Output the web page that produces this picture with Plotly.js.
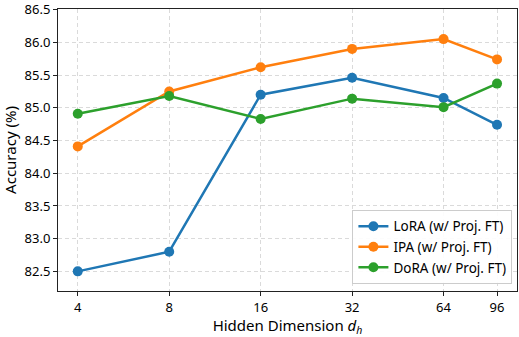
<!DOCTYPE html>
<html>
<head>
<meta charset="utf-8">
<script src="https://cdn.plot.ly/plotly-3.0.1.min.js"></script>
<style>body{margin:0}#chart{width:519px;height:337px}</style>
</head>
<body>
<div id="chart"></div>
<script>
const dims = [4, 8, 16, 32, 64, 96];
const lora = [82.50, 82.80, 85.20, 85.46, 85.15, 84.74];
const ipa = [84.41, 85.25, 85.62, 85.90, 86.05, 85.74];
const dora = [84.91, 85.18, 84.83, 85.14, 85.01, 85.37];

const names = ['LoRA (w/ Proj. FT)', 'IPA (w/ Proj. FT)', 'DoRA (w/ Proj. FT)'];
const colors = ['#1f77b4', '#ff7f0e', '#2ca02c'];

const data = [lora, ipa, dora].map((ys, i) => ({
  x: dims,
  y: ys,
  name: names[i],
  type: 'scatter',
  mode: 'lines+markers',
  line: {color: colors[i], width: 2.5},
  marker: {color: colors[i], size: 10}
}));

const axisBase = {
  showline: true, mirror: true, linecolor: '#222', linewidth: 1,
  ticks: 'outside', ticklen: 4, tickcolor: '#222',
  gridcolor: '#dadada', griddash: '4px,3px', gridwidth: 1,
  zeroline: false,
  ticklabeloverflow: 'allow',
  tickfont: {size: 13, color: '#000'}
};

const layout = {
  width: 519, height: 337,
  margin: {l: 58, r: 2, t: 9, b: 46},
  font: {family: 'Noto Sans, sans-serif', color: '#000'},
  paper_bgcolor: '#fff', plot_bgcolor: '#fff',
  showlegend: true,
  legend: {
    x: 0.99, y: 0.025, xanchor: 'right', yanchor: 'bottom',
    bordercolor: '#ccc', borderwidth: 1, bgcolor: 'rgba(255,255,255,0.9)',
    font: {size: 13.5}, tracegroupgap: 0
  },
  xaxis: Object.assign({}, axisBase, {
    type: 'log',
    range: [0.537, 2.048],
    tickvals: dims,
    ticktext: dims.map(String),
    title: {text: 'Hidden Dimension <i>d</i><sub><i>h</i></sub>', font: {size: 15}, standoff: 6}
  }),
  yaxis: Object.assign({}, axisBase, {
    range: [82.2, 86.51],
    tickvals: [82.5, 83, 83.5, 84, 84.5, 85, 85.5, 86, 86.5],
    tickformat: '.1f',
    title: {text: 'Accuracy (%)', font: {size: 15}, standoff: 6}
  })
};

Plotly.newPlot('chart', data, layout, {displayModeBar: false});
</script>
</body>
</html>
